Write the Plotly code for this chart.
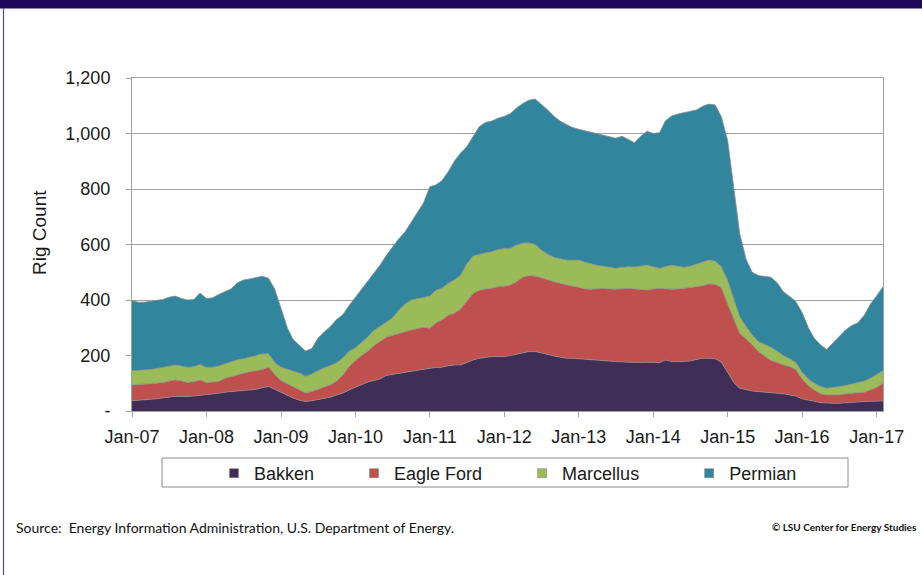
import plotly.graph_objects as go
import pandas as pd

months = pd.date_range("2007-01-01", periods=122, freq="MS")

bakken = [
    37, 38, 40, 42, 44, 46, 50, 53, 52, 52, 54, 56,
    60, 62, 64, 68, 70, 72, 75, 77, 78, 84, 88, 78,
    67, 56, 47, 39, 34, 37, 41, 45, 50, 58, 65, 76,
    86, 95, 104, 110, 115, 128, 132, 136, 140, 142, 148, 152,
    154, 157, 158, 163, 166, 166, 175, 184, 190, 193, 196, 196,
    196, 200, 205, 211, 214, 214, 210, 204, 198, 194, 190, 190,
    188, 186, 184, 182, 180, 179, 178, 177, 176, 174, 175, 176,
    175, 174, 184, 178, 178, 178, 180, 186, 190, 190, 188, 176,
    138, 102, 82, 76, 72, 70, 68, 66, 65, 62, 58, 54,
    44, 38, 35, 30, 28, 28, 28, 30, 31, 32, 34, 35,
    36, 36,
]
eagle_ford = [
    57, 57, 56, 56, 56, 57, 58, 59, 56, 51, 52, 56,
    43, 42, 42, 50, 54, 60, 63, 65, 67, 66, 70, 54,
    43, 42, 41, 39, 31, 33, 37, 41, 45, 50, 65, 84,
    96, 105, 110, 125, 135, 138, 140, 144, 146, 150, 150, 150,
    144, 161, 170, 182, 186, 202, 220, 240, 245, 247, 246, 252,
    254, 254, 261, 271, 274, 272, 270, 268, 268, 266, 264, 260,
    258, 254, 255, 259, 262, 261, 261, 264, 266, 266, 263, 260,
    265, 268, 257, 261, 262, 264, 264, 262, 262, 268, 268, 269,
    248, 228, 198, 184, 168, 144, 130, 116, 110, 104, 102, 96,
    71, 54, 41, 32, 30, 30, 30, 32, 33, 34, 34, 41,
    49, 64,
]
marcellus = [
    51, 51, 51, 52, 53, 54, 54, 54, 54, 54, 54, 56,
    54, 54, 56, 52, 52, 53, 50, 53, 55, 56, 48, 43,
    48, 52, 56, 59, 60, 63, 67, 70, 69, 66, 62, 55,
    46, 48, 52, 55, 55, 54, 63, 82, 99, 108, 107, 108,
    116, 118, 114, 115, 120, 122, 135, 135, 130, 130, 132, 134,
    136, 132, 132, 123, 118, 114, 100, 93, 88, 88, 90, 94,
    98, 96, 91, 84, 80, 78, 75, 77, 78, 79, 84, 90,
    80, 72, 79, 87, 82, 76, 78, 82, 84, 86, 84, 75,
    84, 72, 60, 45, 35, 36, 42, 48, 40, 34, 28, 25,
    25, 23, 24, 26, 24, 26, 30, 30, 34, 36, 40, 42,
    45, 45,
]
permian = [
    253, 246, 245, 245, 245, 245, 248, 248, 243, 243, 242, 257,
    248, 250, 258, 260, 264, 277, 284, 281, 282, 280, 272, 265,
    212, 150, 114, 98, 91, 92, 117, 129, 141, 156, 156, 165,
    182, 192, 204, 210, 220, 240, 255, 258, 260, 280, 315, 340,
    394, 379, 388, 402, 428, 440, 422, 431, 460, 470, 471, 473,
    476, 486, 494, 503, 514, 524, 525, 520, 508, 497, 488, 478,
    471, 474, 475, 473, 471, 470, 469, 472, 458, 448, 468, 482,
    480, 489, 525, 537, 548, 557, 556, 555, 562, 562, 563, 540,
    505, 398, 300, 243, 225, 238, 244, 252, 247, 230, 225, 220,
    215, 185, 162, 150, 140, 161, 182, 200, 210, 216, 237, 267,
    285, 303,
]

series_names = ["Bakken", "Eagle Ford", "Marcellus", "Permian"]
series_colors = ["#402E56", "#C0504D", "#9BBB59", "#31869D"]
series_values = [bakken, eagle_ford, marcellus, permian]
legend_pads = [7, 7, 9, 0]

year_ticks = pd.date_range("2007-01-01", "2017-01-01", freq="YS")
year_labels = ["Jan-07", "Jan-08", "Jan-09", "Jan-10", "Jan-11", "Jan-12",
               "Jan-13", "Jan-14", "Jan-15", "Jan-16", "Jan-17"]
y_ticks = [0, 200, 400, 600, 800, 1000, 1200]
y_labels = ["-", "200", "400", "600", "800", "1,000", "1,200"]

fig = go.Figure()
for name, color, vals in zip(series_names, series_colors, series_values):
    fig.add_trace(go.Scatter(
        x=months, y=vals, name=name, mode="lines",
        stackgroup="one", fillcolor=color,
        line=dict(color="#8a8a8a", width=0.8),
        showlegend=False,
    ))

# legend entries with square swatches
for name, color, npad in zip(series_names, series_colors, legend_pads):
    fig.add_trace(go.Scatter(
        x=[None], y=[None], name=name + "\u00a0" * npad, mode="markers",
        marker=dict(symbol="square", size=9, color=color,
                    line=dict(color="#777777", width=0.5)),
        hoverinfo="skip",
    ))

W, H = 922, 575
L, R, T, B = 132, 39, 78, 164
pw, ph = W - L - R, H - T - B


def px(x):
    return (x - L) / pw


def py(y):
    return (H - B - y) / ph


font = "Liberation Sans, Arial, sans-serif"
grid = "#A0A0A0"

fig.update_layout(
    width=W, height=H,
    margin=dict(l=L, r=R, t=T, b=B),
    paper_bgcolor="white", plot_bgcolor="white",
    font=dict(family=font, size=18, color="#1a1a1a"),
    showlegend=True,
    legend=dict(
        orientation="h", x=px(214), xanchor="left", y=py(455), yanchor="top",
        borderwidth=0, bgcolor="rgba(0,0,0,0)",
        font=dict(size=18, family=font),
        traceorder="normal", itemwidth=30,
    ),
    xaxis=dict(
        type="date",
        range=["2007-01-01", "2017-02-01"],
        tickvals=year_ticks, ticktext=year_labels,
        showgrid=False, zeroline=False,
        showline=True, linecolor=grid, linewidth=1, mirror=True,
        ticks="outside", ticklen=5, tickcolor=grid,
        tickfont=dict(size=18, family=font),
        ticklabelstandoff=4,
    ),
    yaxis=dict(
        range=[0, 1200],
        tickvals=y_ticks, ticktext=y_labels,
        showgrid=True, gridcolor=grid, gridwidth=1, zeroline=False,
        showline=True, linecolor=grid, linewidth=1, mirror=True,
        ticks="outside", ticklen=5, tickcolor=grid,
        tickfont=dict(size=18, family=font),
        ticklabelstandoff=12,
    ),
    shapes=[
        dict(type="rect", xref="paper", yref="paper",
             x0=px(-2), x1=px(W + 2), y0=py(8.5), y1=py(-2),
             fillcolor="#21075A", line=dict(width=0), layer="above"),
        dict(type="line", xref="paper", yref="paper",
             x0=px(3.5), x1=px(3.5), y0=py(8), y1=py(H + 2),
             line=dict(color="#5B4A86", width=1.2)),
        dict(type="rect", xref="paper", yref="paper",
             x0=px(162), x1=px(848), y0=py(487), y1=py(458),
             line=dict(color="#8c8c8c", width=1), fillcolor="rgba(0,0,0,0)"),
    ],
    annotations=[
        dict(text="Rig Count", textangle=-90,
             xref="paper", yref="paper", x=px(40), y=py(233),
             xanchor="center", yanchor="middle", showarrow=False,
             font=dict(family=font, size=19, color="#1a1a1a")),
        dict(text="Source:  Energy Information Administration, U.S. Department of Energy.",
             xref="paper", yref="paper", x=px(14), y=py(527),
             xanchor="left", yanchor="middle", showarrow=False,
             font=dict(family="Lato, sans-serif", size=14, color="#111111")),
        dict(text="<b>© LSU Center for Energy Studies</b>",
             xref="paper", yref="paper", x=px(919), y=py(527),
             xanchor="right", yanchor="middle", showarrow=False,
             font=dict(family="Lato, sans-serif", size=10, color="#111111")),
    ],
)

fig.write_html("out.html", config={"displayModeBar": False},
               post_script="document.body.style.margin='0';")
